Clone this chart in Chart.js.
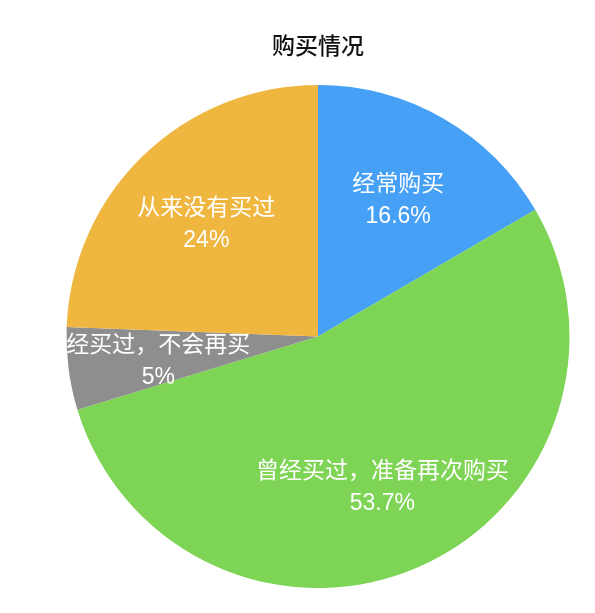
<!DOCTYPE html>
<html>
<head>
<meta charset="utf-8">
<script src="https://cdn.jsdelivr.net/npm/chart.js@4"></script>
<style>
  html, body { margin: 0; padding: 0; background: #fff; }
  #wrap { width: 595px; height: 613px; }
</style>
</head>
<body>
<div id="wrap"><canvas id="pieChart"></canvas></div>
<script>
const categories = ['经常购买', '曾经买过，准备再次购买', '经买过，不会再买', '从来没有买过'];
const shares = [16.6, 53.7, 5.3, 24.4];
const shareLabels = ['16.6%', '53.7%', '5%', '24%'];
const sliceColors = ['#46a0f5', '#7ed454', '#8e8e8e', '#efb640'];

const FONT = "'Liberation Sans', 'Noto Sans CJK SC', sans-serif";

// draws the two-line label inside each slice
const sliceLabels = {
  id: 'sliceLabels',
  afterDatasetsDraw(chart) {
    const ctx = chart.ctx;
    const arcs = chart.getDatasetMeta(0).data;
    ctx.save();
    ctx.fillStyle = '#ffffff';
    ctx.font = '23px ' + FONT;
    ctx.textAlign = 'center';
    ctx.textBaseline = 'middle';
    arcs.forEach((arc, i) => {
      const p = arc.getProps(['x', 'y', 'startAngle', 'endAngle', 'outerRadius'], true);
      const mid = (p.startAngle + p.endAngle) / 2;
      const r = p.outerRadius * 0.64;
      const cx = p.x + Math.cos(mid) * r;
      const cy = p.y + Math.sin(mid) * r + 4;
      ctx.fillText(categories[i], cx, cy - 16);
      ctx.fillText(shareLabels[i], cx, cy + 16);
    });
    ctx.restore();
  }
};

document.addEventListener('DOMContentLoaded', () => {
  const ctx = document.getElementById('pieChart').getContext('2d');
  new Chart(ctx, {
    type: 'pie',
    data: {
      labels: categories,
      datasets: [{
        data: shares,
        backgroundColor: sliceColors,
        borderWidth: 0
      }]
    },
    options: {
      responsive: true,
      maintainAspectRatio: false,
      animation: false,
      layout: {
        padding: { top: 34, bottom: 25, left: 41, right: 0 }
      },
      plugins: {
        legend: { display: false },
        tooltip: { enabled: false },
        title: {
          display: true,
          text: '购买情况',
          color: '#111111',
          font: { family: FONT, size: 23, weight: '500' },
          padding: { top: 0, bottom: 23.4 }
        }
      }
    },
    plugins: [sliceLabels]
  });
});
</script>
</body>
</html>
